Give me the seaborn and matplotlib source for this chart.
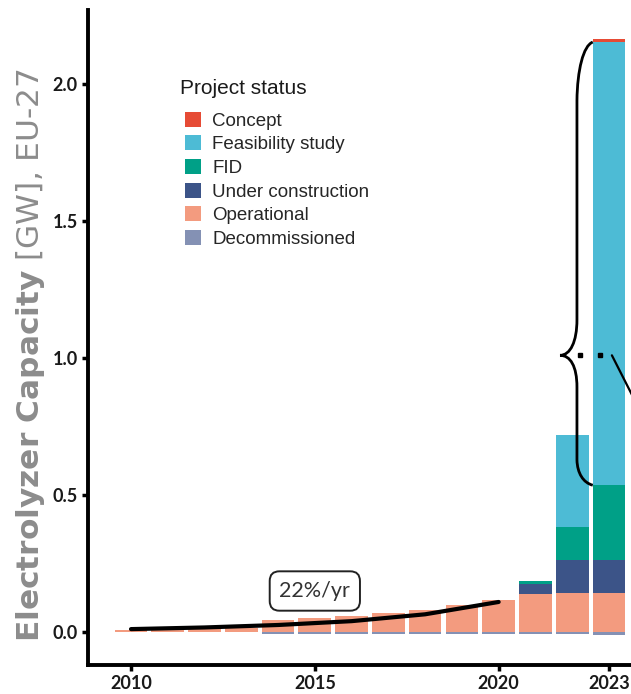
import numpy as np
import pandas as pd
import matplotlib
matplotlib.use('Agg')
import matplotlib.pyplot as plt
from matplotlib.patches import Patch, PathPatch
from matplotlib.path import Path
import seaborn as sns

# Data (GW, EU-27)
YEARS = list(range(2010, 2024))
OPERATIONAL = [0.008, 0.010, 0.013, 0.016, 0.045, 0.050, 0.058, 0.068,
               0.080, 0.098, 0.118, 0.138, 0.142, 0.142]
UNDER_CONSTRUCTION = [0] * 11 + [0.037, 0.121, 0.121]
FID = [0] * 11 + [0.010, 0.120, 0.273]
FEASIBILITY = [0] * 11 + [0.0, 0.337, 1.617]
CONCEPT = [0] * 13 + [0.012]
DECOMMISSIONED = [0, 0, 0, 0, -0.006, -0.006, -0.007, -0.007,
                  -0.008, -0.008, -0.008, -0.008, -0.008, -0.010]

# 22%/yr trend line points
TREND_YEARS = [2010, 2012, 2014, 2016, 2018, 2020]
TREND_VALUES = [0.011, 0.017, 0.026, 0.040, 0.065, 0.110]

STATUS_ORDER = ['Concept', 'Feasibility study', 'FID',
                'Under construction', 'Operational', 'Decommissioned']
COLORS = {
    'Concept': '#E64B35',
    'Feasibility study': '#4DBBD5',
    'FID': '#00A087',
    'Under construction': '#3C5488',
    'Operational': '#F39B7F',
    'Decommissioned': '#8491B4',
}

sns.set_theme(style='ticks')
plt.rcParams['font.family'] = ['Liberation Sans', 'DejaVu Sans']
plt.rcParams['mathtext.fontset'] = 'dejavusans'

series = {
    'Concept': CONCEPT,
    'Feasibility study': FEASIBILITY,
    'FID': FID,
    'Under construction': UNDER_CONSTRUCTION,
    'Operational': OPERATIONAL,
}
rows = []
for status, vals in series.items():
    for y, v in zip(YEARS, vals):
        rows.append({'year': y, 'gw': v, 'status': status})
df = pd.DataFrame(rows)

fig = plt.figure(figsize=(6.31, 6.94), dpi=100)
ax = fig.add_axes([88 / 631, 29 / 694, 543 / 631, 655 / 694])

sns.histplot(data=df, x='year', weights='gw', hue='status',
             hue_order=list(series.keys()), multiple='stack', discrete=True,
             shrink=0.89, palette=COLORS, alpha=1, linewidth=0,
             legend=False, ax=ax)
sns.histplot(x=YEARS, weights=DECOMMISSIONED, discrete=True, shrink=0.89,
             color=COLORS['Decommissioned'], alpha=1, linewidth=0, ax=ax)

# trend line + label
ax.plot(TREND_YEARS, TREND_VALUES, color='black', lw=3, solid_capstyle='round')
ax.text(2015.0, 0.150, '22%/yr', ha='center', va='center', fontsize=15.5,
        family=['Lato', 'DejaVu Sans'], color='#333333',
        bbox=dict(boxstyle='round,pad=0.45,rounding_size=0.45', fc='white',
                  ec='#222222', lw=1.4))

# curly brace on the 2023 bar
verts = [
    (2022.56, 2.153),
    (2022.30, 2.14), (2022.14, 2.05), (2022.13, 1.94),
    (2022.13, 1.14),
    (2022.13, 1.06), (2021.95, 1.01), (2021.67, 1.01),
    (2021.95, 1.01), (2022.13, 0.97), (2022.13, 0.894),
    (2022.13, 0.628),
    (2022.14, 0.58), (2022.30, 0.545), (2022.56, 0.536),
]
codes = [Path.MOVETO,
         Path.CURVE4, Path.CURVE4, Path.CURVE4,
         Path.LINETO,
         Path.CURVE4, Path.CURVE4, Path.CURVE4,
         Path.CURVE4, Path.CURVE4, Path.CURVE4,
         Path.LINETO,
         Path.CURVE4, Path.CURVE4, Path.CURVE4]
ax.add_patch(PathPatch(Path(verts, codes), fc='none', ec='black', lw=2))
ax.plot([2022.21, 2022.75], [1.01, 1.01], ls='none', marker='s', ms=3,
        color='black')
ax.plot([2023.08, 2023.8], [1.01, 0.82], color='black', lw=1.6)

# axes styling
ax.set_xlim(2008.83, 2023.6)
ax.set_ylim(-0.12, 2.27)
ax.set_xticks([2010, 2015, 2020, 2023])
ax.set_yticks([0.0, 0.5, 1.0, 1.5, 2.0])
ax.set_yticklabels(['0.0', '0.5', '1.0', '1.5', '2.0'])
ax.tick_params(axis='both', labelsize=13, width=2.5, length=4,
               color='black', labelcolor='#1a1a1a')
for lab in ax.get_xticklabels() + ax.get_yticklabels():
    lab.set_family(['Lato', 'DejaVu Sans'])
    lab.set_fontweight('bold')
for side in ['left', 'bottom']:
    ax.spines[side].set_linewidth(2.8)
    ax.spines[side].set_color('black')
ax.spines['top'].set_visible(False)
ax.spines['right'].set_visible(False)
ax.set_xlabel('')
ax.set_ylabel(r'$\mathbf{Electrolyzer\ Capacity}$ [GW], EU-27',
              fontsize=22.5, color='#8c8c8c', family='DejaVu Sans')
ax.yaxis.set_label_coords(-0.075, 0.473)

# legend: title as its own text so the gap matches
fig.text(180 / 631, 1 - 88 / 694, 'Project status', fontsize=15,
         ha='left', va='center', color='#1a1a1a')
handles = [Patch(facecolor=COLORS[s], edgecolor='none', label=s)
           for s in STATUS_ORDER]
leg = ax.legend(handles=handles, loc='upper left',
                bbox_to_anchor=(168 / 631, 1 - 95 / 694),
                bbox_transform=fig.transFigure, frameon=False, fontsize=13.5,
                handlelength=0.85, handleheight=0.85,
                labelspacing=0.30, handletextpad=0.6)

fig.savefig('out.png', dpi=100)
